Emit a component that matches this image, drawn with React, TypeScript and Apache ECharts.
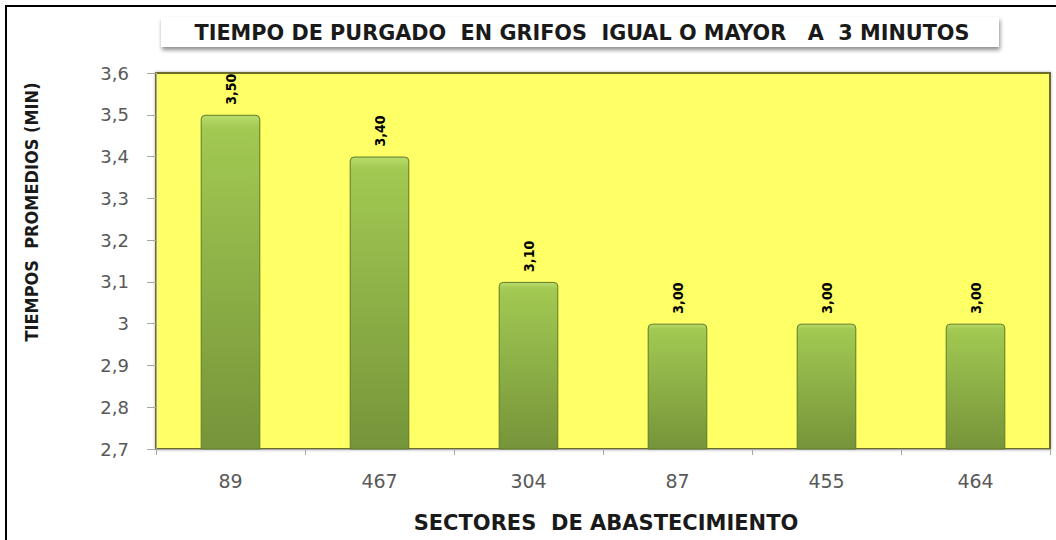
import React, { useEffect, useRef } from "react";
import * as echarts from "echarts";

const categories = ["89", "467", "304", "87", "455", "464"];
const values = [3.5, 3.4, 3.1, 3.0, 3.0, 3.0];
const yMin = 2.7;
const yMax = 3.6;
const yInterval = 0.1;
const titleText = "TIEMPO DE PURGADO  EN GRIFOS  IGUAL O MAYOR   A  3 MINUTOS";
const xName = "SECTORES  DE ABASTECIMIENTO";
const yName = "TIEMPOS  PROMEDIOS (MIN)";

export default function App() {
  const ref = useRef<HTMLDivElement>(null);
  useEffect(() => {
    document.body.style.margin = "0";
    const chart = echarts.init(ref.current!, null, { renderer: "svg" });
    chart.setOption({
      animation: false,
      backgroundColor: "#ffffff",
      graphic: [
        {
          type: "rect",
          shape: { x: 6, y: 6, width: 1080, height: 560 },
          style: { fill: "none", stroke: "#000", lineWidth: 2 },
          z: 100,
        },
        {
          type: "rect",
          shape: { x: 161, y: 17, width: 838, height: 30 },
          style: {
            fill: "#ffffff",
            shadowBlur: 4,
            shadowOffsetX: 1,
            shadowOffsetY: 3,
            shadowColor: "rgba(0,0,0,0.45)",
          },
          z: 1,
        },
        {
          type: "text",
          x: 582,
          y: 33,
          scaleX: 1.1,
          style: {
            text: titleText,
            fill: "#1a1a1a",
            font: "600 21px 'DejaVu Sans Condensed', sans-serif",
            align: "center",
            verticalAlign: "middle",
          },
          z: 2,
        },
        {
          type: "text",
          x: 31,
          y: 212,
          rotation: Math.PI / 2,
          style: {
            text: yName,
            fill: "#1a1a1a",
            font: "bold 18px 'DejaVu Sans Condensed', sans-serif",
            align: "center",
            verticalAlign: "middle",
          },
        },
        {
          type: "text",
          x: 606,
          y: 523,
          style: {
            text: xName,
            fill: "#1a1a1a",
            font: "bold 21px 'DejaVu Sans', sans-serif",
            align: "center",
            verticalAlign: "middle",
          },
        },
      ],
      grid: {
        left: 156,
        right: 6,
        top: 73,
        bottom: 91,
        show: true,
        backgroundColor: "#ffff66",
        borderColor: "#6d6d2c",
        borderWidth: 2,
        shadowColor: "rgba(0,0,0,0.3)",
        shadowBlur: 3,
      },
      xAxis: {
        type: "category",
        data: categories,
        axisLine: { show: true, lineStyle: { color: "#a6a6a6" } },
        axisTick: { show: true, alignWithLabel: false, length: 6, lineStyle: { color: "#a6a6a6" } },
        axisLabel: {
          color: "#595959",
          fontSize: 19,
          fontFamily: "DejaVu Sans",
          margin: 22,
        },
      },
      yAxis: {
        type: "value",
        min: yMin,
        max: yMax,
        interval: yInterval,
        axisLine: { show: true, lineStyle: { color: "#a6a6a6" } },
        axisTick: { show: true, length: 9, lineStyle: { color: "#a6a6a6" } },
        splitLine: { show: false },
        axisLabel: {
          color: "#595959",
          fontSize: 18,
          fontFamily: "DejaVu Sans",
          margin: 27,
          formatter: (v: number) => {
            const r = Math.round(v * 10) / 10;
            return Number.isInteger(r) ? String(r) : r.toFixed(1).replace(".", ",");
          },
        },
      },
      series: [
        {
          type: "bar",
          data: values,
          barWidth: "40%",
          itemStyle: {
            color: {
              type: "linear",
              x: 0,
              y: 0,
              x2: 0,
              y2: 1,
              colorStops: [
                { offset: 0, color: "#b8dc6c" },
                { offset: 0.04, color: "#a2c952" },
                { offset: 1, color: "#76943a" },
              ],
            },
            borderColor: "#5e7a2a",
            borderWidth: 1,
            borderRadius: [4, 4, 0, 0],
          },
          label: {
            show: true,
            position: "top",
            rotate: 90,
            align: "left",
            verticalAlign: "middle",
            distance: 10,
            color: "#000",
            fontSize: 14,
            fontWeight: 600,
            fontFamily: "'DejaVu Sans Condensed', sans-serif",
            formatter: (p: any) => p.value.toFixed(2).replace(".", ","),
          },
        },
      ],
    });
    return () => chart.dispose();
  }, []);
  return <div ref={ref} style={{ width: 1056, height: 540 }} />;
}
